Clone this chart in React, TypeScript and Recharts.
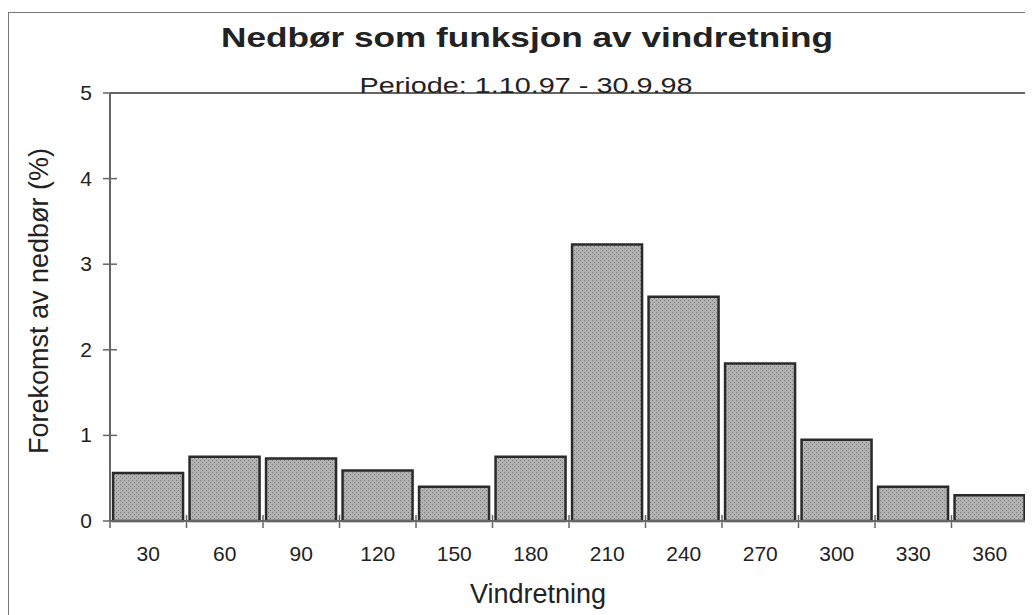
import React from "react";
import { BarChart, Bar, XAxis, YAxis, ReferenceLine } from "recharts";

// Vindretning (grader) og forekomst av nedbør (%)
const directions = ["30", "60", "90", "120", "150", "180", "210", "240", "270", "300", "330", "360"];
const frequency = [0.56, 0.75, 0.73, 0.59, 0.4, 0.75, 3.23, 2.62, 1.84, 0.95, 0.4, 0.3];
const yTicks = [0, 1, 2, 3, 4, 5];

const TITLE = "Nedbør som funksjon av vindretning";
const SUBTITLE = "Periode: 1.10.97 - 30.9.98";
const X_LABEL = "Vindretning";
const Y_LABEL = "Forekomst av nedbør (%)";

const W = 1025;
const H = 607;
const MARGIN = { top: 85, right: 5, left: 0, bottom: 0 };
const Y_AXIS_W = 102;
const X_AXIS_H = H - 513 - MARGIN.bottom;
const BAND = (W - MARGIN.right - Y_AXIS_W) / directions.length;

const FONT = "'Liberation Sans', Arial, Helvetica, sans-serif";
const TEXT = "#222";
const AXIS = "#666";

const data = directions.map((d, i) => ({ dir: d, value: frequency[i] }));

const XTick = (props: any) => {
  const { x, y, payload, index } = props;
  const half = payload?.offset ? payload.offset : BAND / 2;
  const last = index === directions.length - 1;
  return (
    <g>
      <line x1={x - half} x2={x - half} y1={y - 6} y2={y + 7} stroke={AXIS} strokeWidth={1.5} />
      {last && <line x1={x + half} x2={x + half} y1={y - 6} y2={y + 7} stroke={AXIS} strokeWidth={1.5} />}
      <text x={x} y={y + 40} textAnchor="middle" fontSize={21} fill={TEXT} fontFamily={FONT}>
        {payload.value}
      </text>
    </g>
  );
};

const YTick = (props: any) => {
  const { x, y, payload } = props;
  return (
    <g>
      <line x1={x - 7} x2={x + 7} y1={y} y2={y} stroke={AXIS} strokeWidth={1.5} />
      <text x={x - 18} y={y + 7} textAnchor="end" fontSize={21} fill={TEXT} fontFamily={FONT}>
        {payload.value}
      </text>
    </g>
  );
};

export default function App() {
  return (
    <div style={{ position: "relative", width: W, height: H, background: "#fff", fontFamily: FONT }}>
      {/* bakgrunnsmønster for søylene */}
      <svg width={0} height={0} style={{ position: "absolute" }}>
        <defs>
          <pattern id="dots" width={4} height={4} patternUnits="userSpaceOnUse">
            <rect width={4} height={4} fill="#b2b2b2" />
            <rect x={0} y={0} width={1} height={1} fill="#7a7a7a" />
            <rect x={2} y={2} width={1} height={1} fill="#7a7a7a" />
          </pattern>
        </defs>
      </svg>
      {/* ramme rundt figuren */}
      <div
        style={{
          position: "absolute",
          top: 4,
          left: 0,
          right: 0,
          bottom: 0,
          borderTop: "1.5px solid #777",
          borderLeft: "1.5px solid #777",
        }}
      />
      <div style={{ position: "absolute", top: 0, left: 0 }}>
        <BarChart width={W} height={H} data={data} margin={MARGIN} barCategoryGap="4%">
          <XAxis
            dataKey="dir"
            height={X_AXIS_H}
            axisLine={{ stroke: AXIS, strokeWidth: 2 }}
            tickLine={false}
            tickSize={0}
            tickMargin={0}
            interval={0}
            tick={<XTick />}
          />
          <YAxis
            yAxisId="left"
            width={Y_AXIS_W}
            domain={[0, 5]}
            ticks={yTicks}
            axisLine={{ stroke: AXIS, strokeWidth: 2 }}
            tickLine={false}
            tickSize={0}
            tickMargin={0}
            tick={<YTick />}
          />
          <YAxis
            yAxisId="right"
            orientation="right"
            width={0}
            domain={[0, 5]}
            tick={false}
            tickLine={false}
            axisLine={{ stroke: AXIS, strokeWidth: 2 }}
          />
          <ReferenceLine yAxisId="left" y={5} stroke={AXIS} strokeWidth={2} />
          <Bar
            yAxisId="left"
            dataKey="value"
            fill="url(#dots)"
            stroke="#2a2a2a"
            strokeWidth={2.5}
            isAnimationActive={false}
          />
        </BarChart>
      </div>
      {/* titler og aksetitler */}
      <svg width={W} height={H} style={{ position: "absolute", top: 0, left: 0, pointerEvents: "none" }}>
        <text
          x={519}
          y={39}
          textAnchor="middle"
          fontSize={28}
          fontWeight="bold"
          fill={TEXT}
          fontFamily={FONT}
          textLength={612}
          lengthAdjust="spacingAndGlyphs"
        >
          {TITLE}
        </text>
        <text
          x={518}
          y={85}
          textAnchor="middle"
          fontSize={22}
          fill={TEXT}
          fontFamily={FONT}
          textLength={333}
          lengthAdjust="spacingAndGlyphs"
        >
          {SUBTITLE}
        </text>
        <text x={530} y={595} textAnchor="middle" fontSize={27} fill={TEXT} fontFamily={FONT}>
          {X_LABEL}
        </text>
        <text
          transform="translate(40, 293) rotate(-90)"
          textAnchor="middle"
          fontSize={27}
          fill={TEXT}
          fontFamily={FONT}
        >
          {Y_LABEL}
        </text>
      </svg>
    </div>
  );
}
